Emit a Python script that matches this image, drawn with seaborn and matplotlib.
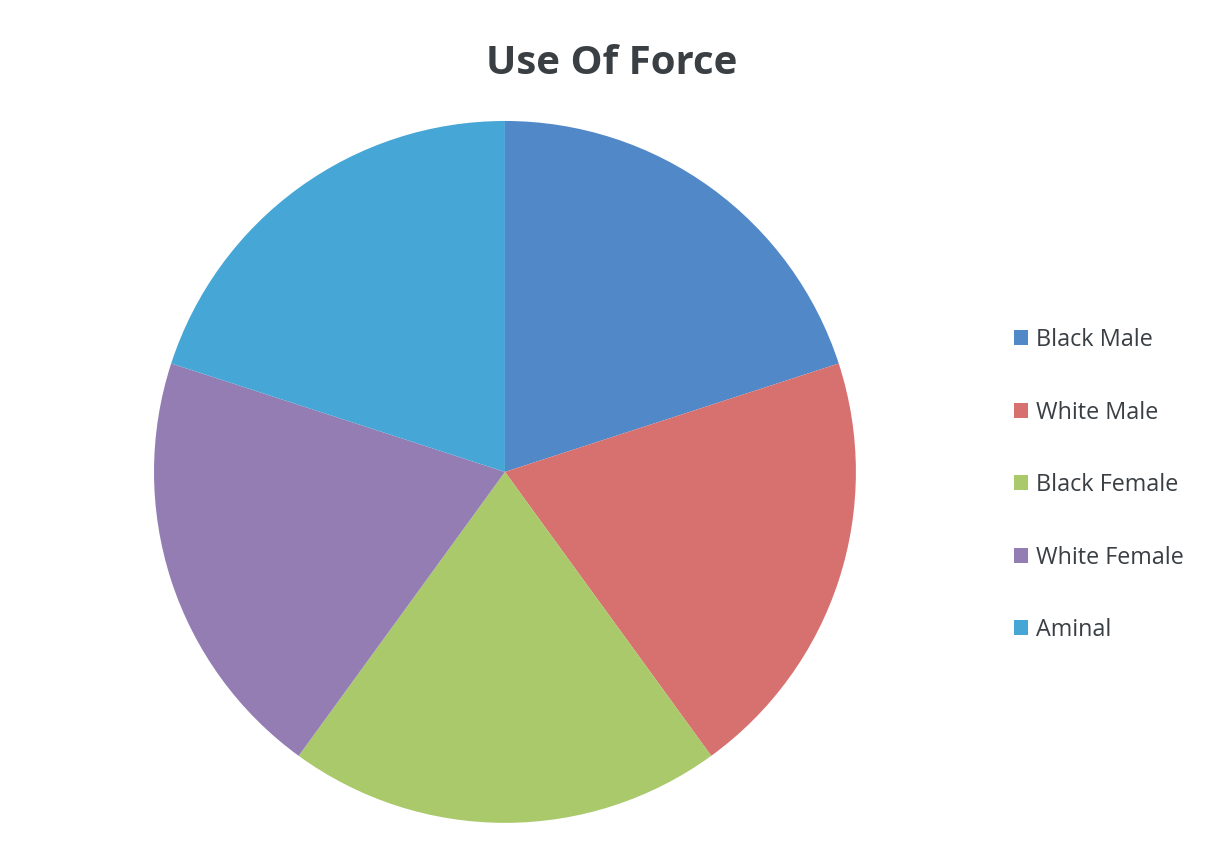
import matplotlib
matplotlib.use("Agg")
import matplotlib.pyplot as plt
import seaborn as sns

# chart data
labels = ["Black Male", "White Male", "Black Female", "White Female", "Aminal"]
values = [1, 1, 1, 1, 1]
colors = ["#5088C8", "#D7716F", "#A9C96B", "#937DB3", "#46A6D6"]

sns.set_theme(style="white")
plt.rcParams["font.family"] = ["Open Sans", "DejaVu Sans"]

fig = plt.figure(figsize=(12.06, 8.48), dpi=100)
ax = fig.add_axes([0.1277, 0.0295, 0.582, 0.828])

wedges, _ = ax.pie(values, colors=colors, startangle=90, counterclock=False,
                   radius=1, wedgeprops=dict(linewidth=0))
ax.set_xlim(-1, 1)
ax.set_ylim(-1, 1)
ax.set_aspect("equal")
ax.axis("off")

fig.text(0.507, 0.925, "Use Of Force", ha="center", va="center",
         fontsize=29, fontweight="bold", color="#3A3F44")

leg = fig.legend(wedges, labels, loc="center left", bbox_to_anchor=(0.831, 0.428),
                 frameon=False, fontsize=16.8, handlelength=0.6, handleheight=0.6,
                 handletextpad=0.35, labelspacing=2.08, borderpad=0)
for t in leg.get_texts():
    t.set_color("#3A3F44")

fig.savefig("out.png", dpi=100, facecolor="white")
